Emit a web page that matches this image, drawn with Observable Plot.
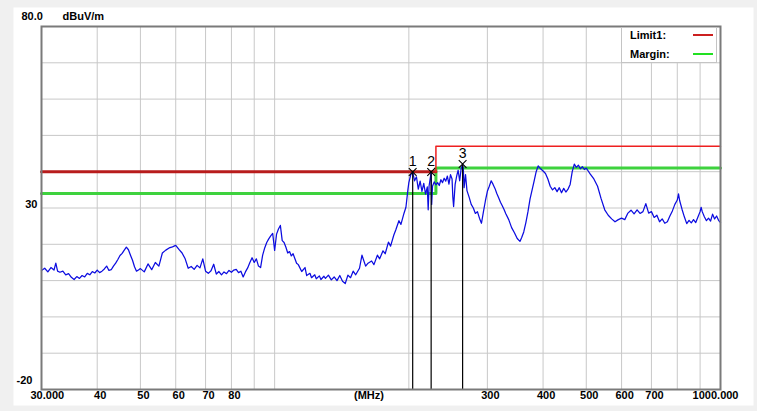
<!DOCTYPE html>
<html><head><meta charset="utf-8">
<script src="https://cdn.jsdelivr.net/npm/d3@7"></script>
<script src="https://cdn.jsdelivr.net/npm/@observablehq/plot@0.6"></script>
<style>
html,body{margin:0;padding:0;background:#f0f0f0;}
#wrap{position:relative;width:757px;height:411px;overflow:hidden;}
#wrap svg{display:block;}
#legend{position:absolute;left:621px;top:27px;width:94px;height:34px;background:#fff;border:1px solid #c4c4c4;font:bold 11px "Liberation Sans",Arial,sans-serif;color:#000;}
#legend .name{position:absolute;left:8px;line-height:12px;}
#legend .swatch{position:absolute;left:71px;width:20px;height:2px;}
</style></head><body><div id="wrap"></div>
<script>
const traceFreq = [
 30,30.5,31,31.5,32,32.3,32.6,33,33.5,34,
 34.5,35,35.5,36,36.5,37,37.5,38,38.5,39,
 39.5,40,40.5,41,41.5,42,42.5,43,43.5,44,
 44.5,45,45.5,46,46.5,47,47.5,48,48.5,49,
 49.5,50,51,52,53,54,55,56,57,58,
 59,60,61,62,63,64,65,66,67,68,
 69,70,71,72,73,74,75,76,77,78,
 79,80,81,82,83,84,85,86,87,88,
 89,90,91,92,93,94,95,96,97,98,
 99,100,101,102,103,104,105,106,107,108,
 109,110,112,113,115,117,118,120,121,123,
 124,126,127,129,130,132,134,136,138,140,
 142,144,146,148,150,152,155,157,160,162,
 165,167,170,172,175,177,180,182,185,187,
 190,192,195,197,199,200,202,204,206,208,
 210,212,214,216,218,220,221,222,224.4,225,
 226,228,230,232,234,236,238,240,242,244,
 246,248,250,251,252,254,256,258,260,262,
 264,265,266,268,270,273,276,279,282,285,
 288,291,294,297,300,303,306,309,312,315,
 318,321,324,327,330,335,340,345,350,355,
 358,362,366,370,374,378,382,386,390,395,
 400,405,410,415,420,425,430,435,440,445,
 450,455,460,465,470,475,480,485,490,495,
 500,505,510,520,530,540,550,560,570,580,
 590,600,610,620,630,640,650,660,670,680,
 690,700,710,720,730,740,750,760,770,780,
 790,800,805,810,820,830,840,850,860,870,
 880,890,900,905,910,920,930,940,950,960,
 970,980,990,1000
];
const traceLevel = [
 12.8,13.4,12.4,13.6,12.9,14.8,12.6,12.3,12.6,11.6,
 11.9,10.9,10.3,11.1,10.6,11.4,11.0,12.0,11.6,12.5,
 12.1,12.9,12.2,12.6,13.2,14.0,12.8,13.0,14.0,14.8,
 15.8,16.9,17.5,18.4,19.2,18.5,17.0,15.6,13.8,12.6,
 12.9,13.3,12.4,14.6,13.0,15.0,14.0,17.6,18.4,19.0,
 19.3,19.7,18.6,17.6,16.0,13.4,13.9,13.1,14.2,13.5,
 16.0,12.6,12.0,12.7,14.5,11.8,12.5,11.6,12.4,11.9,
 12.8,12.3,12.9,13.1,12.2,12.6,11.0,12.4,13.5,15.0,
 16.3,15.0,16.0,14.0,13.6,17.0,19.0,20.5,21.5,22.3,
 23.0,18.3,22.8,24.2,25.2,21.0,20.5,19.2,17.6,18.0,
 16.8,17.4,14.8,14.4,12.5,13.6,11.4,12.0,10.8,11.6,
 10.5,11.3,10.3,11.2,10.6,11.5,10.2,11.0,10.0,11.4,
 9.8,9.2,11.5,10.8,12.6,11.6,13.4,17.0,14.0,14.8,
 15.4,14.4,17.0,16.0,18.2,17.4,20.6,19.5,22.5,24.0,
 26.5,25.5,28.5,30.2,35.0,37.0,39.2,39.9,37.5,38.6,
 35.2,37.4,34.6,36.8,33.8,35.8,29.5,36.0,39.9,31.0,
 36.0,37.2,36.4,37.0,36.2,37.8,37.0,38.2,37.4,38.8,
 36.6,39.2,38.0,33.0,30.4,36.5,38.8,40.4,37.5,40.8,
 42.1,40.5,35.6,39.2,34.8,33.0,31.0,30.0,28.5,29.0,
 27.2,25.8,29.0,32.0,34.6,36.0,37.5,36.5,35.4,34.0,
 32.8,31.6,30.6,29.6,28.4,26.8,24.6,23.2,21.6,20.8,
 21.8,23.4,26.0,29.0,32.5,35.0,37.5,40.0,41.6,40.8,
 40.2,39.5,38.0,36.0,35.0,35.6,34.5,35.6,34.2,35.4,
 34.4,35.2,36.5,40.0,42.1,41.2,41.8,40.8,41.4,40.6,
 41.0,40.2,39.4,38.0,36.0,32.5,29.5,28.0,27.0,26.2,
 26.8,27.2,26.8,28.6,29.4,28.4,29.5,28.5,29.0,31.2,
 28.6,29.0,27.4,28.0,26.2,27.0,25.8,26.2,27.8,29.2,
 31.0,32.2,33.9,32.0,29.6,27.5,25.7,26.6,25.9,26.8,
 26.0,27.5,29.0,30.2,29.0,27.6,26.5,27.2,26.4,28.3,
 27.0,27.8,26.6,26.0
];
const limitFreq = [30, 230, 230, 1000];
const limitLevel = [40, 40, 47, 47];
const marginFreq = [30, 230, 230, 1000];
const marginLevel = [34, 34, 41, 41];
const markerIds = ["1", "2", "3"];
const markerFreq = [204, 224.4, 264];
const markerLevel = [39.9, 39.9, 42.1];
const xGrid = [40, 50, 60, 70, 80, 90, 100, 200, 300, 400, 500, 600, 700, 800, 900];
const yGrid = [70, 60, 50, 40, 30, 20, 10, 0, -10];
const xTickValues = [40, 50, 60, 70, 80, 300, 400, 500, 600, 700];
const xTickLabels = ["40", "50", "60", "70", "80", "300", "400", "500", "600", "700"];
const xStartLabel = ["30.000"];
const xEndLabel = ["1000.000"];
const xUnit = ["(MHz)"];
const yTopLabel = ["80.0"];
const yUnit = ["dBuV/m"];
const yMidLabel = ["30"];
const yBottomLabel = ["-20"];
const legendNames = ["Limit1:", "Margin:"];
const legendColors = ["#cc2020", "#22e022"];

const trace = traceFreq.map((f, i) => ({f, v: traceLevel[i]}));
const limit = limitFreq.map((f, i) => ({f, v: limitLevel[i]}));
const margin = marginFreq.map((f, i) => ({f, v: marginLevel[i]}));
const markers = markerIds.map((id, i) => ({id, f: markerFreq[i], v: markerLevel[i]}));

const font = '"Liberation Sans", Arial, sans-serif';
const chart = Plot.plot({
  width: 757, height: 411,
  marginLeft: 41, marginRight: 37, marginTop: 26, marginBottom: 22,
  style: {background: "transparent", fontFamily: font},
  x: {type: "log", domain: [30, 1000], axis: null},
  y: {domain: [-20, 80], axis: null},
  marks: [
    Plot.frame({fill: "white", insetLeft: -28, insetTop: -19, insetRight: -33, insetBottom: -16}),
    Plot.ruleX(xGrid, {x: d => d, stroke: "#c8c8c8", strokeWidth: 1}),
    Plot.ruleY(yGrid, {y: d => d, stroke: "#c8c8c8", strokeWidth: 1}),
    Plot.line(margin, {x: "f", y: "v", stroke: "#3ed23e", strokeWidth: 3}),
    Plot.line(limit.slice(0, 2), {x: "f", y: "v", stroke: "#b81c1c", strokeWidth: 3}),
    Plot.line(limit.slice(1), {x: "f", y: "v", stroke: "#ee2020", strokeWidth: 1.5}),
    Plot.line(trace, {x: "f", y: "v", stroke: "#0c0ce0", strokeWidth: 1.25}),
    Plot.ruleX(markers, {x: "f", y1: "v", y2: -20, stroke: "black", strokeWidth: 1.2}),
    Plot.dot(markers, {x: "f", y: "v", symbol: "times", r: 3.6, stroke: "black", strokeWidth: 1.1}),
    Plot.text(markers, {x: "f", y: "v", text: "id", dy: -11, fontSize: 14, fill: "black"}),
    Plot.frame({stroke: "#7a7a7a", strokeWidth: 2}),
    Plot.text(xTickValues, {x: d => d, text: (d, i) => xTickLabels[i], frameAnchor: "bottom", dy: 9, dx: 3, fontSize: 11, fontWeight: "bold", fill: "black"}),
    Plot.text(xStartLabel, {x: 30, text: d => d, frameAnchor: "bottom", dy: 9, dx: -11, textAnchor: "start", fontSize: 11, fontWeight: "bold", fill: "black"}),
    Plot.text(xEndLabel, {x: 1000, text: d => d, frameAnchor: "bottom", dy: 9, dx: 18, textAnchor: "end", fontSize: 11, fontWeight: "bold", fill: "black"}),
    Plot.text(xUnit, {text: d => d, frameAnchor: "bottom", dy: 9, dx: -12, fontSize: 11, fontWeight: "bold", fill: "black"}),
    Plot.text(yTopLabel, {y: 80, text: d => d, frameAnchor: "left", dx: -20, dy: -10, textAnchor: "start", fontSize: 11, fontWeight: "bold", fill: "black"}),
    Plot.text(yUnit, {y: 80, text: d => d, frameAnchor: "left", dx: 21, dy: -10, textAnchor: "start", fontSize: 11, fontWeight: "bold", fill: "black"}),
    Plot.text(yMidLabel, {y: 30, text: d => d, frameAnchor: "left", dx: -4, dy: -3.5, textAnchor: "end", fontSize: 11, fontWeight: "bold", fill: "black"}),
    Plot.text(yBottomLabel, {y: -20, text: d => d, frameAnchor: "left", dx: -9, dy: -9, textAnchor: "end", fontSize: 11, fontWeight: "bold", fill: "black"})
  ]
});
const wrap = document.getElementById("wrap");
wrap.appendChild(chart);
const legend = document.createElement("div");
legend.id = "legend";
legendNames.forEach((name, i) => {
  const t = document.createElement("div");
  t.className = "name"; t.textContent = name; t.style.top = (1 + i * 19) + "px";
  legend.appendChild(t);
  const s = document.createElement("div");
  s.className = "swatch"; s.style.background = legendColors[i]; s.style.top = (6 + i * 19) + "px";
  legend.appendChild(s);
});
wrap.appendChild(legend);
</script></body></html>
